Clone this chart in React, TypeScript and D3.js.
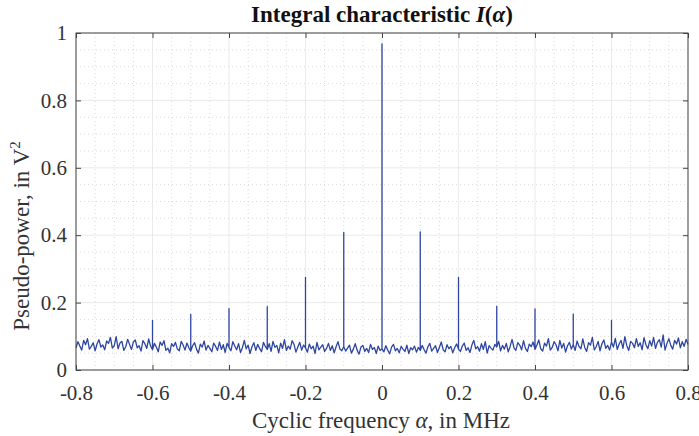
import React, { useEffect, useRef } from "react";
import * as d3 from "d3";

// noise floor, one value every 0.005 MHz starting at -0.8
const alphaStart = -0.8;
const alphaStep = 0.005;
const noise = [
  0.066, 0.084, 0.071, 0.059, 0.088, 0.075, 0.093, 0.062, 0.070, 0.081, 0.057, 0.077, 0.090, 0.068, 0.074, 0.060, 0.086, 0.079, 0.097, 0.065,
  0.072, 0.099, 0.063, 0.080, 0.085, 0.058, 0.069, 0.091, 0.076, 0.061, 0.083, 0.089, 0.066, 0.072, 0.056, 0.087, 0.078, 0.064, 0.092, 0.071,
  0.060, 0.079, 0.068, 0.054, 0.083, 0.073, 0.087, 0.058, 0.065, 0.051, 0.078, 0.070, 0.082, 0.062, 0.057, 0.085, 0.074, 0.059, 0.080, 0.066,
  0.056, 0.072, 0.081, 0.062, 0.050, 0.077, 0.068, 0.086, 0.059, 0.073, 0.064, 0.054, 0.080, 0.070, 0.058, 0.083, 0.061, 0.075, 0.052, 0.079,
  0.067, 0.057, 0.084, 0.071, 0.060, 0.078, 0.052, 0.066, 0.088, 0.063, 0.074, 0.049, 0.069, 0.081, 0.058, 0.076, 0.064, 0.054, 0.082, 0.070,
  0.061, 0.078, 0.055, 0.085, 0.067, 0.073, 0.051, 0.080, 0.064, 0.090, 0.058, 0.071, 0.062, 0.087, 0.076, 0.053, 0.068, 0.082, 0.059, 0.074,
  0.066, 0.053, 0.077, 0.063, 0.071, 0.049, 0.082, 0.060, 0.068, 0.075, 0.055, 0.064, 0.079, 0.058, 0.072, 0.051, 0.069, 0.084, 0.062, 0.057,
  0.070, 0.056, 0.065, 0.074, 0.050, 0.062, 0.078, 0.059, 0.047, 0.068, 0.073, 0.055, 0.064, 0.052, 0.076, 0.061, 0.067, 0.049, 0.071, 0.058,
  0.063, 0.054, 0.072, 0.059, 0.048, 0.068, 0.076, 0.057, 0.064, 0.051, 0.070, 0.062, 0.055, 0.074, 0.049, 0.066, 0.060, 0.071, 0.053, 0.067,
  0.058, 0.073, 0.061, 0.050, 0.069, 0.079, 0.056, 0.064, 0.072, 0.052, 0.067, 0.083, 0.060, 0.054, 0.075, 0.063, 0.070, 0.051, 0.066, 0.077,
  0.062, 0.055, 0.071, 0.080, 0.058, 0.066, 0.052, 0.074, 0.088, 0.063, 0.069, 0.056, 0.078, 0.061, 0.084, 0.050, 0.072, 0.065, 0.059, 0.076,
  0.068, 0.085, 0.057, 0.073, 0.062, 0.079, 0.054, 0.070, 0.091, 0.066, 0.058, 0.081, 0.074, 0.060, 0.087, 0.064, 0.055, 0.077, 0.069, 0.083,
  0.061, 0.074, 0.089, 0.063, 0.056, 0.080, 0.071, 0.093, 0.059, 0.067, 0.084, 0.075, 0.057, 0.088, 0.065, 0.079, 0.053, 0.072, 0.082, 0.062,
  0.076, 0.058, 0.086, 0.070, 0.063, 0.092, 0.067, 0.055, 0.081, 0.074, 0.097, 0.060, 0.069, 0.085, 0.057, 0.078, 0.089, 0.064, 0.073, 0.059,
  0.083, 0.068, 0.094, 0.061, 0.077, 0.088, 0.064, 0.099, 0.072, 0.058, 0.085, 0.079, 0.066, 0.093, 0.070, 0.081, 0.060, 0.096, 0.075, 0.063,
  0.087, 0.071, 0.097, 0.064, 0.082, 0.090, 0.068, 0.104, 0.059, 0.079, 0.093, 0.073, 0.062, 0.088, 0.077, 0.095, 0.066, 0.084, 0.070, 0.091,
  0.076,
];

// spectral lines
const peakAlpha = [-0.6, -0.5, -0.4, -0.3, -0.2, -0.1, 0, 0.1, 0.2, 0.3, 0.4, 0.5, 0.6];
const peakValue = [0.147, 0.165, 0.182, 0.188, 0.275, 0.408, 0.968, 0.41, 0.275, 0.189, 0.181, 0.166, 0.147];

const xTicks = [-0.8, -0.6, -0.4, -0.2, 0, 0.2, 0.4, 0.6, 0.8];
const yTicks = [0, 0.2, 0.4, 0.6, 0.8, 1];

const W = 699;
const H = 436;
const left = 76, right = 688, top = 33, bottom = 370;
const serif = "'Liberation Serif', 'Times New Roman', serif";
const lineColor = "#2e46a0";

export default function App() {
  const svgRef = useRef<SVGSVGElement>(null);

  useEffect(() => {
    const svg = d3.select(svgRef.current);
    svg.selectAll("*").remove();

    const x = d3.scaleLinear().domain([-0.8, 0.8]).range([left, right]);
    const y = d3.scaleLinear().domain([0, 1]).range([bottom, top]);

    svg.append("rect").attr("width", W).attr("height", H).attr("fill", "#fff");

    // minor grid (dotted), every 0.05
    const xMinor = d3.range(-0.75, 0.8, 0.05).filter((v) => Math.abs(v * 5 - Math.round(v * 5)) > 0.01);
    const yMinor = d3.range(0.05, 1, 0.05).filter((v) => Math.abs(v * 5 - Math.round(v * 5)) > 0.01);
    const grid = svg.append("g");
    grid.selectAll("line.xm").data(xMinor).enter().append("line")
      .attr("x1", (d) => x(d)).attr("x2", (d) => x(d)).attr("y1", top).attr("y2", bottom)
      .attr("stroke", "#cfcfcf").attr("stroke-width", 0.8).attr("stroke-dasharray", "1,3");
    grid.selectAll("line.ym").data(yMinor).enter().append("line")
      .attr("y1", (d) => y(d)).attr("y2", (d) => y(d)).attr("x1", left).attr("x2", right)
      .attr("stroke", "#cfcfcf").attr("stroke-width", 0.8).attr("stroke-dasharray", "1,3");
    // major grid
    grid.selectAll("line.xg").data(xTicks).enter().append("line")
      .attr("x1", (d) => x(d)).attr("x2", (d) => x(d)).attr("y1", top).attr("y2", bottom)
      .attr("stroke", "#e4e4e4").attr("stroke-width", 0.8);
    grid.selectAll("line.yg").data(yTicks).enter().append("line")
      .attr("y1", (d) => y(d)).attr("y2", (d) => y(d)).attr("x1", left).attr("x2", right)
      .attr("stroke", "#e4e4e4").attr("stroke-width", 0.8);

    // series: noise with vertical spikes at peaks
    const pts: [number, number][] = [];
    noise.forEach((v, i) => {
      const a = alphaStart + i * alphaStep;
      const k = peakAlpha.findIndex((p) => Math.abs(p - a) < 1e-6);
      pts.push([a, v]);
      if (k >= 0) {
        pts.push([a, peakValue[k]]);
        pts.push([a, v]);
      }
    });
    const line = d3.line<[number, number]>().x((d) => x(d[0])).y((d) => y(d[1]));
    svg.append("path").datum(pts).attr("d", line)
      .attr("fill", "none").attr("stroke", lineColor).attr("stroke-width", 1.3)
      .attr("stroke-linejoin", "round");

    // axes
    const fmt = (d: d3.NumberValue) => String(+d);
    const styleAxis = (g: d3.Selection<SVGGElement, unknown, null, undefined>) => {
      g.attr("font-family", serif).attr("font-size", 21);
      g.select(".domain").remove();
      g.selectAll(".tick line").attr("stroke", "#444");
      g.selectAll(".tick text").attr("fill", "#333").style("font-family", serif).style("font-size", "21px");
    };
    svg.append("g").attr("transform", `translate(0,${bottom})`)
      .call(d3.axisBottom(x).tickValues(xTicks).tickFormat(fmt).tickSize(-5).tickPadding(15))
      .call(styleAxis);
    svg.append("g").attr("transform", `translate(0,${top})`)
      .call(d3.axisTop(x).tickValues(xTicks).tickFormat(() => "").tickSize(-5))
      .call(styleAxis);
    svg.append("g").attr("transform", `translate(${left},0)`)
      .call(d3.axisLeft(y).tickValues(yTicks).tickFormat(fmt).tickSize(-5).tickPadding(9))
      .call(styleAxis);
    svg.append("g").attr("transform", `translate(${right},0)`)
      .call(d3.axisRight(y).tickValues(yTicks).tickFormat(() => "").tickSize(-5))
      .call(styleAxis);

    svg.append("rect").attr("x", left).attr("y", top).attr("width", right - left).attr("height", bottom - top)
      .attr("fill", "none").attr("stroke", "#444").attr("stroke-width", 1);

    // title
    const title = svg.append("text").attr("x", 382).attr("y", 22)
      .attr("text-anchor", "middle").style("font-family", serif).style("font-size", "23px")
      .style("font-weight", "bold").attr("fill", "#111");
    title.append("tspan").text("Integral characteristic ");
    title.append("tspan").style("font-style", "italic").text("I");
    title.append("tspan").text("(");
    title.append("tspan").style("font-style", "italic").text("α");
    title.append("tspan").text(")");

    // x label
    const xl = svg.append("text").attr("x", 381).attr("y", 428)
      .attr("text-anchor", "middle").style("font-family", serif).style("font-size", "23px").attr("fill", "#333");
    xl.append("tspan").text("Cyclic frequency ");
    xl.append("tspan").style("font-style", "italic").text("α");
    xl.append("tspan").text(", in MHz");

    // y label
    const yl = svg.append("text").attr("transform", `translate(29,236) rotate(-90)`)
      .attr("text-anchor", "middle").style("font-family", serif).style("font-size", "23px").attr("fill", "#333");
    yl.append("tspan").text("Pseudo-power, in V");
    yl.append("tspan").attr("dy", -9).style("font-size", "15px").text("2");
  }, []);

  return (
    <svg ref={svgRef} width={W} height={H} style={{ position: "absolute", left: 0, top: 0 }} />
  );
}
